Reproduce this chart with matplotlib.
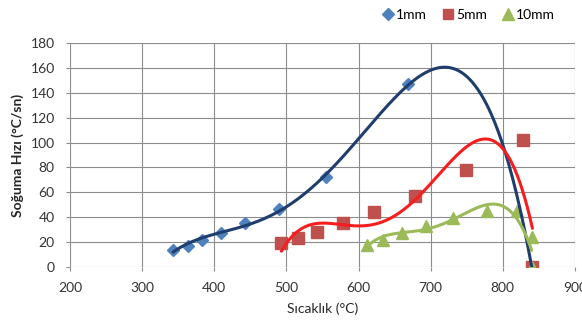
import numpy as np
import matplotlib
matplotlib.use("Agg")
import matplotlib.pyplot as plt

plt.rcParams['font.family'] = ['Lato', 'DejaVu Sans']

# Data
x_1mm = [343, 363, 383, 409, 443, 490, 555, 669, 840]
y_1mm = [14, 17, 22, 27, 35, 47, 72, 147, 0]
x_5mm = [493, 516, 542, 579, 622, 678, 749, 828, 841]
y_5mm = [19, 23, 28, 35, 44, 57, 78, 102, 0]
x_10mm = [612, 634, 660, 693, 731, 778, 819, 840, 840]
y_10mm = [18, 22, 27, 33, 39, 45, 45, 24, 0]

labels = ['1mm', '5mm', '10mm']
marker_colors = ['#4F81BD', '#C0504D', '#9BBB59']
line_colors = ['#1F3E6E', '#F51E1E', '#9BBB59']
markers = ['D', 's', '^']
msizes = [6.5, 8.5, 9]
trend_degree = 4  # polynomial trendline order

xticks = [200, 300, 400, 500, 600, 700, 800, 900]
yticks = [0, 20, 40, 60, 80, 100, 120, 140, 160, 180]

fig = plt.figure(figsize=(5.82, 3.26), dpi=100)
ax = fig.add_axes([70/582, 59/326, 505/582, 224/326])

series = [(x_1mm, y_1mm), (x_5mm, y_5mm), (x_10mm, y_10mm)]
handles = []
for (xs, ys), lab, mc, mk, ms in zip(series, labels, marker_colors, markers, msizes):
    h, = ax.plot(xs, ys, linestyle='none', marker=mk, color=mc, markersize=ms, label=lab, zorder=3)
    handles.append(h)
for (xs, ys), lc in zip(series, line_colors):
    coef = np.polyfit(xs, ys, trend_degree)
    xx = np.linspace(min(xs), max(xs), 300)
    ax.plot(xx, np.polyval(coef, xx), color=lc, lw=2.2, zorder=4, solid_capstyle='round')

ax.set_xlim(200, 900)
ax.set_ylim(0, 180)
ax.set_xticks(xticks)
ax.set_yticks(yticks)
ax.grid(True, color='#8C8C8C', lw=0.8)
ax.set_axisbelow(True)
for s in ax.spines.values():
    s.set_visible(False)
ax.tick_params(axis='both', length=3, color='#8C8C8C', labelsize=10, labelcolor='#333333')
ax.tick_params(axis='x', pad=8)
ax.tick_params(axis='y', pad=8)

ax.set_ylabel('Soğuma Hızı (°C/sn)', fontsize=10, fontweight='bold', color='#262626', labelpad=5)
ax.set_xlabel('Sıcaklık (°C)', fontsize=10, color='#262626', labelpad=6)

fig.legend(handles=handles, loc='upper right', bbox_to_anchor=(0.975, 1.012), ncol=3, frameon=False,
           fontsize=10, handletextpad=0.1, columnspacing=1.0, handlelength=1.0, markerscale=0.9)

fig.savefig('out.png', dpi=100)
